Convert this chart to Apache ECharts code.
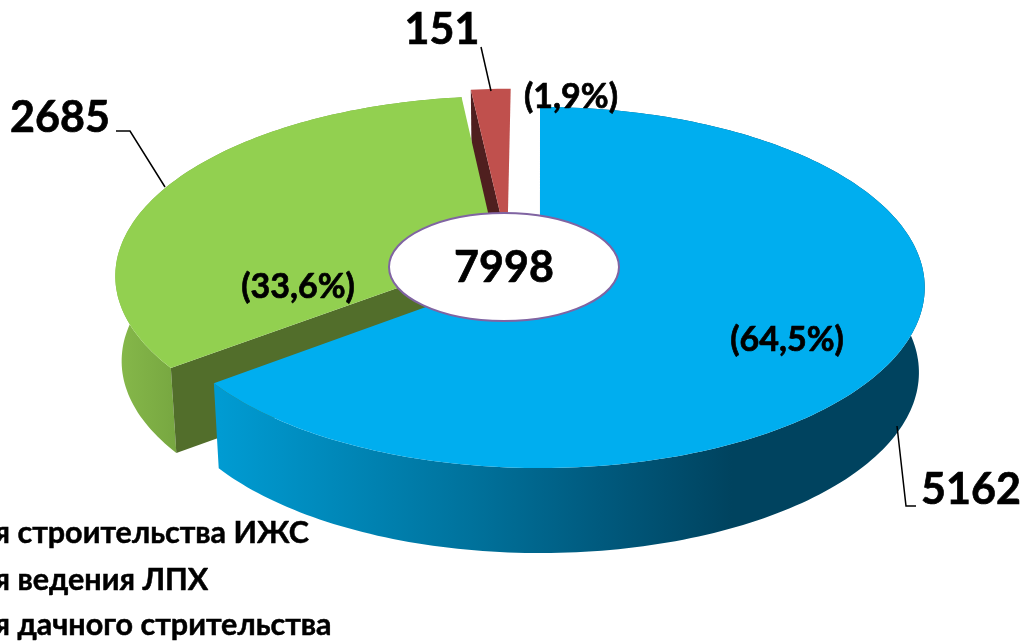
<!DOCTYPE html>
<html>
<head>
<meta charset="utf-8">
<script src="https://cdn.jsdelivr.net/npm/echarts@6/dist/echarts.min.js"></script>
<style>
html, body { margin: 0; padding: 0; background: #fff; overflow: hidden; }
#chartmain { width: 1021px; height: 641px; }
</style>
</head>
<body>
<div id="chartmain"></div>
<script>
var categories = ['для строительства ИЖС', 'для ведения ЛПХ', 'для дачного стрительства'];
var values = [5162, 2685, 151];
var topColors = ['#00aeef', '#92d050', '#c0504d'];
var wallColors = ['#00405c', '#526e2b', '#4f1f1f'];

var total = values.reduce(function (a, b) { return a + b; }, 0);
var font = 'Lato, "Open Sans", "Noto Sans", sans-serif';

// perspective of the pie plate, worked out from the picture
var cx = 540, cy = 266, ax = 382, ay = 178, persp = 0.119;
var depth = 85, vanishX = 538, shrink = 0.985;
// how far each slice is pulled out of the pie (plate units)
var pull = [[0, 0], [-0.113, 0.075], [-0.087, 0.13]];

function project(X, Y) {
	var w = 1 + persp * Y;
	return [cx + ax * X / w, cy - ay * Y / w];
}
function lower(p) {
	return [vanishX + (p[0] - vanishX) * shrink, p[1] + depth];
}
function rim(a0, a1, off) {
	var pts = [];
	var n = Math.max(2, Math.ceil((a1 - a0) / 0.02));
	for (var i = 0; i <= n; i++) {
		var a = a0 + (a1 - a0) * i / n;
		pts.push(project(Math.sin(a) + off[0], Math.cos(a) + off[1]));
	}
	return pts;
}
function percent(v) {
	return '(' + (v / total * 100).toFixed(1).replace('.', ',') + '%)';
}

function renderSlice(params, api) {
	var i = params.dataIndex;
	var start = 0;
	for (var k = 0; k < i; k++) start += values[k];
	var a0 = start / total * Math.PI * 2;
	var a1 = (start + api.value(0)) / total * Math.PI * 2;
	var off = pull[i];
	var arc = rim(a0, a1, off);
	var apex = project(off[0], off[1]);
	var base = (3 - i) * 10;
	var wallFill = wallColors[i];
	if (i === 0) {
		wallFill = new echarts.graphic.LinearGradient(220, 0, 925, 0, [
			{ offset: 0, color: '#009bd2' },
			{ offset: 0.356, color: '#00729c' },
			{ offset: 0.539, color: '#005a7e' },
			{ offset: 0.726, color: '#00435f' },
			{ offset: 1, color: '#00435f' }
		], true);
	} else if (i === 1) {
		wallFill = new echarts.graphic.LinearGradient(118, 0, 180, 0, [
			{ offset: 0, color: '#86b84a' },
			{ offset: 1, color: '#76a640' }
		], true);
	}
	var children = [
		{
			// cut face at the start of the slice, the other one stays hidden
			type: 'polygon',
			z2: base + 1,
			shape: { points: [arc[0], lower(arc[0]), lower(apex), apex] },
			style: { fill: wallColors[i] }
		},
		{
			type: 'polygon',
			z2: base + 2,
			shape: { points: arc.concat([apex]) },
			style: { fill: topColors[i] }
		}
	];
	// the red slice sits at the back, its outer wall can't be seen
	if (i !== 2) {
		children.unshift({
			type: 'polygon',
			z2: base,
			shape: { points: arc.concat(arc.map(lower).reverse()) },
			style: { fill: wallFill }
		});
	}
	return { type: 'group', children: children };
}

function bigText(text, x, y, size) {
	return {
		type: 'text',
		x: x,
		y: y,
		z: 10,
		style: {
			text: text,
			font: 'bold ' + size + 'px ' + font,
			fill: '#000',
			stroke: '#000',
			lineWidth: 0.7,
			align: 'center',
			verticalAlign: 'middle'
		}
	};
}
function leader(points) {
	return {
		type: 'polyline',
		z: 9,
		shape: { points: points },
		style: { stroke: '#000', lineWidth: 1.5, fill: null }
	};
}
function legendText(text, y) {
	return {
		type: 'text',
		x: -43,
		y: y,
		z: 10,
		style: {
			text: text,
			font: 'bold 30.5px ' + font,
			fill: '#000',
			stroke: '#000',
			lineWidth: 0.5,
			align: 'left',
			verticalAlign: 'middle'
		}
	};
}

var option = {
	backgroundColor: '#fff',
	animation: false,
	series: [{
		type: 'custom',
		coordinateSystem: 'none',
		silent: true,
		renderItem: renderSlice,
		data: values.map(function (v) { return [v]; })
	}],
	graphic: [
		{
			type: 'ellipse',
			z: 8,
			shape: { cx: 504, cy: 267, rx: 115, ry: 54 },
			style: { fill: '#fff', stroke: '#8064a2', lineWidth: 2 }
		},
		leader([[116, 131], [130, 131], [165, 187]]),
		leader([[481, 47], [491, 91]]),
		leader([[916, 506], [906, 506], [897, 426]]),
		bigText(String(total), 504, 268, 43),
		bigText(String(values[2]), 442, 30, 43),
		bigText(String(values[1]), 60, 118, 43),
		bigText(String(values[0]), 971, 490, 43),
		bigText(percent(values[2]), 571, 97, 34),
		bigText(percent(values[1]), 298, 287, 34),
		bigText(percent(values[0]), 787, 340, 34),
		legendText(categories[0], 533),
		legendText(categories[1], 580),
		legendText(categories[2], 625)
	]
};

var myChart = echarts.init(document.getElementById('chartmain'));
myChart.setOption(option);
</script>
</body>
</html>
